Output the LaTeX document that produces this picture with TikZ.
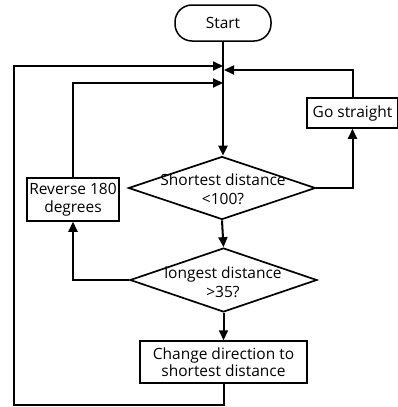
\documentclass[tikz,border=0pt]{standalone}
\usepackage{fontspec}
\setmainfont{Open Sans}
\usetikzlibrary{arrows.meta,shapes.geometric}
\begin{document}
\begin{tikzpicture}[x=1pt,y=-1pt,
  font=\fontsize{15.5}{18.5}\selectfont,
  line/.style={line width=2pt},
  arr/.style={line, -{Triangle[length=10pt,width=9pt]}},
  box/.style={draw, line width=1.5pt, rectangle, inner sep=0pt, align=center},
  term/.style={box, rounded corners=17pt},
  decision/.style={draw, line width=1.7pt, diamond, inner sep=0pt},
  label text/.style={inner sep=0pt, align=center}]
\useasboundingbox (0,0) rectangle (398,407);

% boxes
\node[term, minimum width=96pt, minimum height=36pt] (start) at (223,23) {Start};
\node[box, minimum width=91pt, minimum height=30pt] (gs) at (352.5,113) {Go straight};
\node[box, minimum width=92pt, minimum height=43pt] (rev) at (73,199.5) {Reverse 180\\degrees};
\node[box, minimum width=167pt, minimum height=42pt] (chg) at (223.5,362) {Change direction to\\[-1pt]shortest distance};

% decisions: fixed diamond outline, text laid over it
\node[decision, minimum width=187pt, minimum height=63pt] (d1) at (222,188) {};
\node[label text] (t1) at (223,189) {Shortest distance\\<100?};
\node[decision, minimum width=187pt, minimum height=64pt] (d2) at (223.5,280) {};
\node[label text] (t2) at (223,282) {longest distance\\>35?};

% junction points on the main line
\coordinate (jo) at (223,66);
\coordinate (jr) at (224,70);
\coordinate (ji) at (223,83);

% connectors
\draw[arr] (start.south) -- (start.south |- d1.north);
\draw[arr] (d1.east) -| (gs.south);
\draw[arr] (gs.north) |- (jr);
\draw[arr] (d1.south) -- (d2.north);
\draw[arr] (d2.west) -| (rev.south);
\draw[arr] (rev.north) |- (ji);
\draw[arr] (d2.south) -- (d2.south |- chg.north);
\draw[arr] (chg.south) -- ++(0,21) -| (14,66) -- (jo);
\end{tikzpicture}
\end{document}
